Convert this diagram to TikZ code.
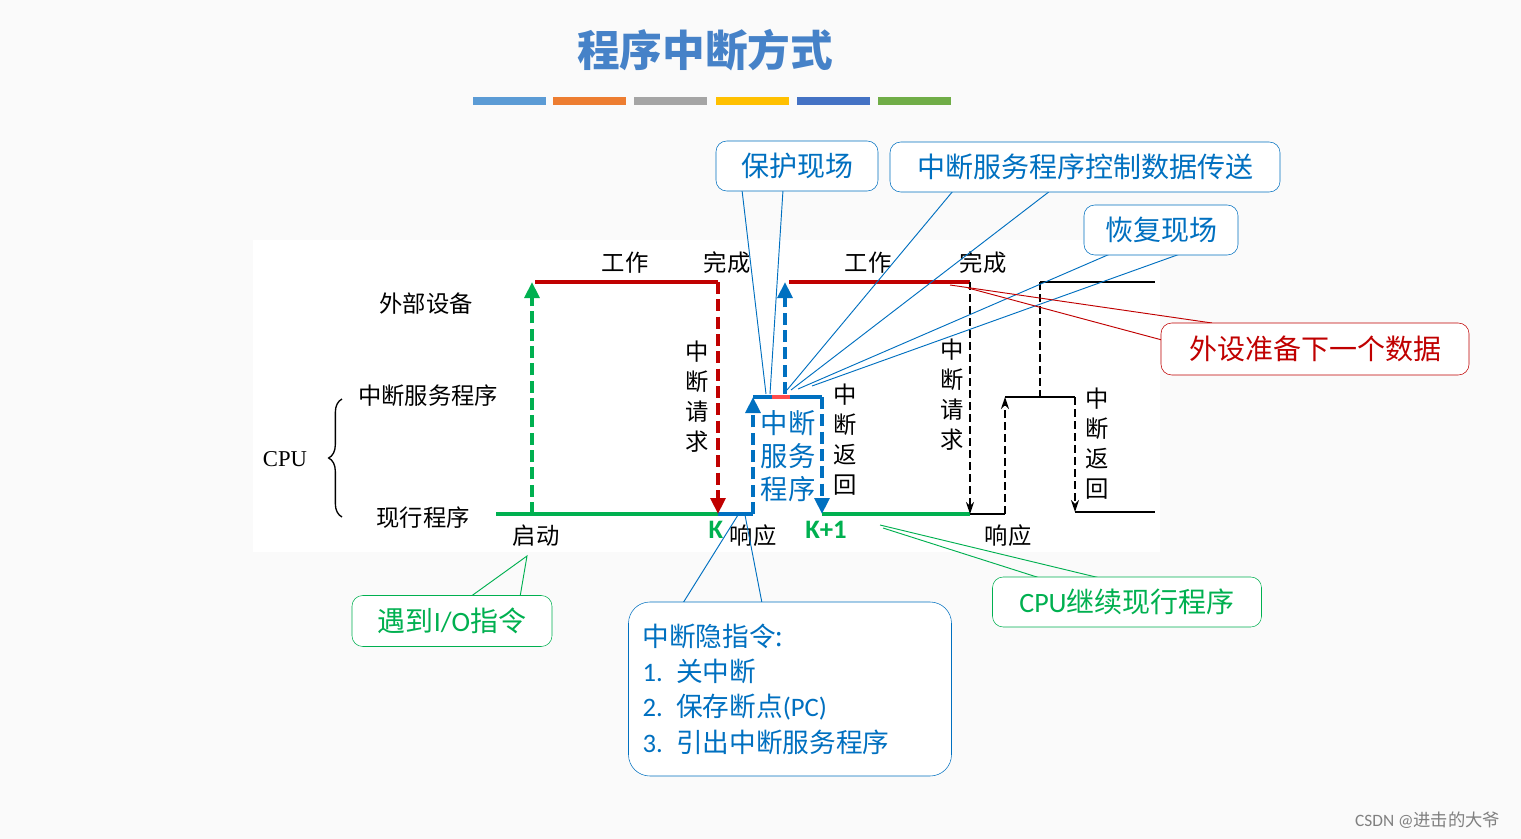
\documentclass[tikz,border=0pt]{standalone}
\usepackage{fontspec}
\setmainfont{Liberation Serif}
\newfontfamily\cjk{Noto Sans CJK SC}
\newfontfamily\sans{Carlito}
\usetikzlibrary{decorations.pathreplacing,arrows.meta}
\definecolor{ttl}{RGB}{70,130,200}
\definecolor{cb}{RGB}{0,112,192}
\definecolor{cr}{RGB}{192,0,0}
\definecolor{cg}{RGB}{0,176,80}
\tikzstyle{lbl} = [font=\cjk\fontsize{17.5}{17.5}\selectfont, inner sep=0pt]
\tikzstyle{vlbl} = [lbl, align=center, font=\cjk\fontsize{17.5}{22.5}\selectfont]
\tikzstyle{callout} = [rectangle, rounded corners=8pt, draw=cb, text=cb, fill=white, font=\cjk\fontsize{21}{24}\selectfont, inner sep=0pt]
\tikzstyle{dev} = [cr, line width=3pt]
\tikzstyle{prog} = [cg, line width=3pt]
\tikzstyle{jump} = [line width=3pt, dash pattern=on 9pt off 4pt, -{Triangle[length=12pt,width=11pt]}]
\tikzstyle{thin} = [black, line width=1.2pt]
\tikzstyle{thinjump} = [thin, dash pattern=on 6pt off 3pt, -{Stealth[length=9pt,width=6pt]}]
\tikzstyle{ptr} = [cb, line width=0.7pt]
\begin{document}
\begin{tikzpicture}[x=0.75pt, y=-0.75pt]
        \useasboundingbox (0,0) rectangle (1521,839);
        \fill[gray!4] (0,0) rectangle (1521,839);
        \fill[white] (253,240) rectangle (1160,552);
        % title and colour bar
        \node (title) [font=\cjk\bfseries\fontsize{32}{32}\selectfont, text=ttl] at (705,50) {程序中断方式};
        \foreach \x/\c in {473/{91,155,213}, 553/{237,125,49}, 634/{165,165,165}, 716/{255,192,0}, 797/{68,114,196}, 878/{112,173,71}} {
            \definecolor{bar}{RGB}{\c}
            \fill[bar] (\x,97) rectangle ++(73,8);
        }
        % levels
        \coordinate (d1) at (535,282); \coordinate (d2) at (718,282);
        \coordinate (d3) at (789,282); \coordinate (d4) at (970,282);
        \coordinate (p0) at (496,514); \coordinate (p1) at (532,514);
        \coordinate (k) at (718,514); \coordinate (r) at (753,514);
        \coordinate (k1) at (822,514); \coordinate (p2) at (970,514);
        \coordinate (s1) at (753,397); \coordinate (s2) at (822,397);
        \draw[dev] (d1) -- (d2);
        \draw[dev] (d3) -- (d4);
        \draw[thin] (1040,282) -- (1155,282);
        \draw[prog] (p0) -- (k);
        \draw[cb, line width=3pt] (k) -- (r);
        \draw[prog] (k1) -- (p2);
        \draw[thin] (p2) -- (1005,514);
        \draw[thin] (1075,512) -- (1155,512);
        \draw[thin] (1005,397) -- (1075,397);
        \draw[cb, line width=3pt] (s1) -- (s2);
        \draw[red!70, line width=3pt] (772,397) -- (790,397);
        % transitions
        \draw[jump, cg] (p1) -- (532,282);
        \draw[jump, cr] (d2) -- (k);
        \draw[jump, cb] (r) -- (s1);
        \draw[jump, cb] (s2) -- (k1);
        \draw[jump, cb] (785,394) -- (785,282);
        \draw[thinjump] (d4) -- (p2);
        \draw[thinjump] (1005,514) -- (1005,397);
        \draw[thin, dash pattern=on 6pt off 3pt] (1040,282) -- (1040,397);
        \draw[thinjump] (1075,397) -- (1075,512);
        % labels
        \node[lbl] (w1) at (625,263) {工作};
        \node[lbl] (c1) at (727,263) {完成};
        \node[lbl] (w2) at (868,263) {工作};
        \node[lbl] (c2) at (983,263) {完成};
        \node[lbl] (devl) at (426,304) {外部设备};
        \node[lbl] (isrl) at (428,396) {中断服务程序};
        \node[lbl] (curl) at (423,518) {现行程序};
        \node[lbl, font=\fontsize{17}{17}\selectfont] (cpu) at (285,459) {CPU};
        \draw[thin, line width=1pt, decorate, decoration={brace, amplitude=10pt}] (342,517) -- (342,399);
        \node[lbl] (start) at (536,536) {启动};
        \node[lbl] (resp1) at (753,536) {响应};
        \node[lbl] (resp2) at (1008,536) {响应};
        \node[lbl, font=\sans\bfseries\fontsize{20}{20}\selectfont, text=cg] (kl) at (716,530) {K};
        \node[lbl, font=\sans\bfseries\fontsize{20}{20}\selectfont, text=cg] (k1l) at (826,530) {K+1};
        \node[vlbl] (req1) at (697,397) {中\\断\\请\\求};
        \node[vlbl] (ret1) at (845,440) {中\\断\\返\\回};
        \node[vlbl] (req2) at (952,395) {中\\断\\请\\求};
        \node[vlbl] (ret2) at (1097,444) {中\\断\\返\\回};
        \node[vlbl, text=cb, font=\cjk\fontsize{20.5}{25}\selectfont] (isr) at (788,456) {中断\\服务\\程序};
        % callouts
        \draw[ptr] (742,190) -- (766,394);
        \draw[ptr] (783,190) -- (770,394);
        \draw[ptr] (953,191) -- (787,390);
        \draw[ptr] (1050,191) -- (791,390);
        \draw[ptr] (1110,254) -- (798,389);
        \draw[ptr] (1180,254) -- (812,386);
        \draw[cr, line width=0.7pt] (1212,323) -- (950,285);
        \draw[cr, line width=0.7pt] (1162,340) -- (968,288);
        \draw[cg, line width=0.7pt] (470,597) -- (527,556) -- (520,597);
        \draw[ptr] (683,603) -- (738,515);
        \draw[ptr] (762,603) -- (745,515);
        \draw[cg, line width=0.7pt] (1100,578) -- (880,525);
        \draw[cg, line width=0.7pt] (1040,578) -- (883,528);
        \node[callout, minimum width=162pt*0.75, minimum height=50*0.75pt] (save) at (797,166) {保护现场};
        \node[callout, minimum width=390*0.75pt, minimum height=50*0.75pt] (xfer) at (1085,167) {中断服务程序控制数据传送};
        \node[callout, minimum width=154*0.75pt, minimum height=50*0.75pt] (restore) at (1161,230) {恢复现场};
        \node[callout, draw=cr, text=cr, minimum width=308*0.75pt, minimum height=52*0.75pt] (next) at (1315,349) {外设准备下一个数据};
        \node[callout, draw=cg, text=cg, minimum width=200*0.75pt, minimum height=51*0.75pt] (io) at (452,621) {遇到\sans I/O\cjk 指令};
        \node[callout, draw=cg, text=cg, minimum width=269*0.75pt, minimum height=50*0.75pt] (cont) at (1127,602) {\sans CPU\cjk 继续现行程序};
        \node[callout, rounded corners=16pt, minimum width=323*0.75pt, minimum height=174*0.75pt, align=left, text width=295*0.75pt, font=\cjk\fontsize{20}{26.5}\selectfont] (hid) at (790,689) {中断隐指令:\\\sans 1. \cjk 关中断\\\sans 2. \cjk 保存断点\sans (PC)\\\sans 3. \cjk 引出中断服务程序};
        \node[font=\sans\fontsize{13}{13}\selectfont, text=gray, anchor=east] (csdn) at (1505,820) {CSDN @\cjk 进击的大爷};
    \end{tikzpicture}
\end{document}
